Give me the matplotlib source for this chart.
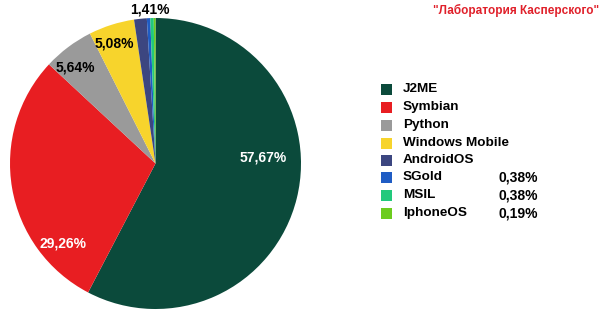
import matplotlib.pyplot as plt
from matplotlib.patches import Rectangle

plt.rcParams['font.family'] = ['Liberation Sans', 'DejaVu Sans']

# data
platforms = ['J2ME', 'Symbian', 'Python', 'Windows Mobile', 'AndroidOS',
             'SGold', 'MSIL', 'IphoneOS']
shares = [57.67, 29.26, 5.64, 5.08, 1.41, 0.38, 0.38, 0.19]
colors = ['#0b4a3b', '#e81e22', '#9a9a9a', '#f7d42c', '#3c4680',
          '#1f5cc4', '#22c97c', '#6ccc1e']
legend_extra = ['', '', '', '', '', '0,38%', '0,38%', '0,19%']

# label text per slice: (text, fig x px, fig y px, colour)
slice_labels = [
    ('57,67%', 263, 157, 'white'),
    ('29,26%', 63, 243, 'white'),
    ('5,64%', 75, 68, 'black'),
    ('5,08%', 114, 43, 'black'),
    ('1,41%', 150, 9, 'black'),
]

W, H = 600, 316
fig = plt.figure(figsize=(W / 100, H / 100), dpi=100)
fig.patch.set_facecolor('white')

ax = fig.add_axes([10 / W, 7 / H, 291 / W, 291 / H])
ax.pie(shares, colors=colors, startangle=90, counterclock=False,
       wedgeprops=dict(linewidth=0))
ax.set_xlim(-1, 1)
ax.set_ylim(-1, 1)
ax.set_aspect('equal')
ax.axis('off')

for txt, x, y, c in slice_labels:
    fig.text(x / W, 1 - y / H, txt, color=c, fontsize=10, fontweight='bold',
             ha='center', va='center')

# manual legend
rows_y = [89, 107, 125, 143, 160, 177, 195, 213]
for name, col, extra, y in zip(platforms, colors, legend_extra, rows_y):
    fig.patches.append(Rectangle((381 / W, 1 - (y + 5.5) / H), 11 / W, 11 / H,
                                 transform=fig.transFigure, facecolor=col,
                                 edgecolor='none'))
    fig.text(403 / W, 1 - y / H, name, fontsize=9.7, fontweight='bold',
             ha='left', va='center')
    if extra:
        fig.text(518 / W, 1 - y / H, extra, fontsize=10, fontweight='bold',
                 ha='center', va='center')

fig.text(516 / W, 1 - 10 / H, '"Лаборатория Касперского"', color='#e0202a',
         fontsize=8.5, fontweight='bold', ha='center', va='center')

fig.savefig('out.png', dpi=100)
